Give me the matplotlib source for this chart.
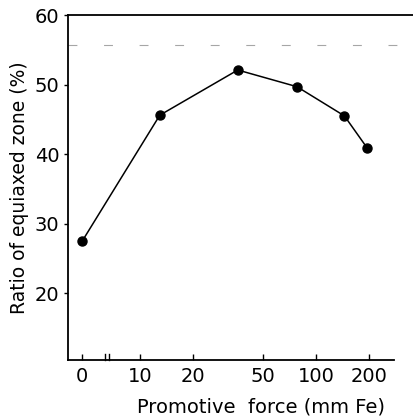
import numpy as np
import matplotlib.pyplot as plt
from matplotlib.ticker import FixedLocator, FixedFormatter
import matplotlib.transforms as mtransforms

force = [0, 13, 36, 78, 145, 195]
ratio = [27.5, 45.6, 52.1, 49.7, 45.5, 40.9]
xticks = [0, 10, 20, 50, 100, 200]
xticklabels = ['0', '10', '20', '50', '100', '200']
yticks = [20, 30, 40, 50, 60]


# log axis above 10, squeezed linear stretch for the zero point
def fwd(x):
    x = np.asarray(x, dtype=float)
    return np.where(x < 10, 0.674 + 0.0326 * x, np.log10(np.maximum(x, 10)))


def inv(y):
    y = np.asarray(y, dtype=float)
    return np.where(y < 1, (y - 0.674) / 0.0326, 10 ** np.maximum(y, 1))


fig = plt.figure(figsize=(4.14, 4.19), dpi=100)
ax = fig.add_axes([0.164, 0.141, 0.834, 0.823])
ax.set_xscale('function', functions=(fwd, inv))

ax.plot(force, ratio, '-o', color='black', lw=1.1, markersize=6.5)

ax.set_xlim(-2.5, 356)
ax.set_ylim(10.4, 60)

ax.xaxis.set_major_locator(FixedLocator(xticks))
ax.xaxis.set_major_formatter(FixedFormatter(xticklabels))
ax.xaxis.set_minor_locator(FixedLocator([]))
ax.set_yticks(yticks)

ax.tick_params(axis='x', direction='in', length=4, width=1, labelsize=14, pad=5)
ax.tick_params(axis='y', direction='out', length=3, width=1, labelsize=14, pad=3)

ax.spines['right'].set_visible(False)
for s in ['left', 'bottom', 'top']:
    ax.spines[s].set_linewidth(1.3)
ax.spines['bottom'].set_bounds(-2.5, 277)

# axis break marks between 0 and 10
trans = mtransforms.blended_transform_factory(ax.transData, ax.transAxes)
for xb in [4.0, 4.6]:
    ax.plot([xb, xb], [0, 0.017], color='black', lw=1.0, transform=trans, clip_on=False)

# faint broken line near the top of the frame
ax.axhline(55.7, color='0.65', lw=0.8, ls=(0, (8, 24)))

ax.set_xlabel('Promotive  force (mm Fe)', fontsize=14)
ax.xaxis.set_label_coords(0.559, -0.11)
ax.set_ylabel('Ratio of equiaxed zone (%)', fontsize=13.5, labelpad=4)

fig.savefig('out.png', dpi=100)
